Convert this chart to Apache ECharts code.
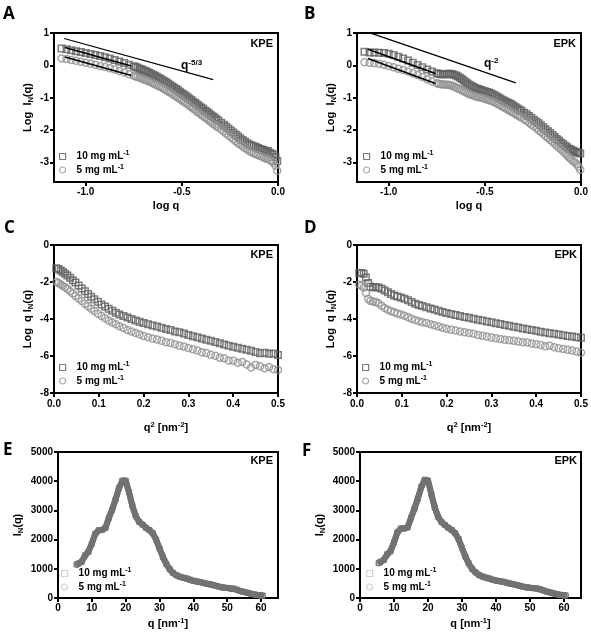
<!DOCTYPE html>
<html><head><meta charset="utf-8">
<script src="https://cdn.jsdelivr.net/npm/echarts@6/dist/echarts.min.js"></script>
<style>html,body{margin:0;padding:0;background:#fff}#c{width:591px;height:635px}</style>
</head><body><div id="c"></div>
<script>
// ---------- DATA ----------
const seriesNames = ['10 mg mL-1', '5 mg mL-1'];
const panelTags = ['KPE', 'EPK', 'KPE', 'EPK', 'KPE', 'EPK'];
const panelLetters = ['A', 'B', 'C', 'D', 'E', 'F'];

// Panels A,B : log q vs Log I_N(q)
const logQ = [-1.126,-1.1,-1.075,-1.05,-1.025,-1.0,-0.975,-0.95,-0.925,-0.9,-0.875,-0.85,-0.825,-0.8,-0.775,-0.75,
  -0.74,-0.73,-0.72,-0.71,-0.70,-0.69,-0.68,-0.67,-0.66,-0.65,-0.64,-0.63,-0.62,-0.61,-0.60,-0.59,-0.58,-0.57,-0.56,-0.55,-0.54,-0.53,
  -0.52,-0.51,-0.50,-0.49,-0.48,-0.47,-0.46,-0.45,-0.44,-0.43,-0.42,-0.41,-0.40,-0.39,-0.38,-0.37,-0.36,-0.35,-0.34,-0.33,-0.32,-0.31,
  -0.295,-0.282,-0.27,-0.258,-0.245,-0.232,-0.22,-0.208,-0.196,-0.184,-0.172,-0.16,-0.148,-0.137,-0.126,-0.115,-0.104,-0.093,-0.082,-0.072,-0.062,-0.052,-0.042,-0.032,-0.022,-0.013,-0.004];
const aKPE10 = [0.52,0.50,0.47,0.44,0.41,0.38,0.35,0.32,0.29,0.25,0.21,0.17,0.12,0.07,0.02,-0.03,
  -0.05,-0.07,-0.10,-0.12,-0.15,-0.17,-0.20,-0.23,-0.26,-0.29,-0.32,-0.35,-0.39,-0.42,-0.46,-0.49,-0.53,-0.57,-0.61,-0.65,-0.69,-0.73,
  -0.77,-0.81,-0.86,-0.90,-0.94,-0.98,-1.03,-1.07,-1.12,-1.16,-1.21,-1.25,-1.30,-1.34,-1.39,-1.43,-1.48,-1.52,-1.57,-1.61,-1.66,-1.70,
  -1.77,-1.83,-1.89,-1.95,-2.01,-2.07,-2.13,-2.19,-2.25,-2.30,-2.35,-2.40,-2.44,-2.47,-2.50,-2.52,-2.55,-2.58,-2.60,-2.62,-2.66,-2.64,-2.70,-2.73,-2.76,-2.83,-2.95];
const aKPE5 = [0.21,0.20,0.17,0.14,0.11,0.08,0.05,0.02,-0.02,-0.05,-0.09,-0.13,-0.17,-0.22,-0.27,-0.32,
  -0.34,-0.36,-0.38,-0.40,-0.43,-0.45,-0.47,-0.50,-0.52,-0.55,-0.58,-0.61,-0.64,-0.67,-0.70,-0.74,-0.77,-0.81,-0.84,-0.88,-0.92,-0.96,
  -1.00,-1.04,-1.08,-1.12,-1.16,-1.20,-1.25,-1.29,-1.34,-1.38,-1.43,-1.47,-1.52,-1.56,-1.61,-1.65,-1.70,-1.74,-1.79,-1.83,-1.88,-1.92,
  -1.98,-2.04,-2.10,-2.16,-2.22,-2.28,-2.34,-2.40,-2.45,-2.50,-2.55,-2.60,-2.64,-2.68,-2.71,-2.74,-2.77,-2.80,-2.82,-2.85,-2.88,-2.87,-2.93,-2.96,-3.01,-3.10,-3.25];
const bEPK10 = [0.42,0.40,0.40,0.39,0.38,0.36,0.32,0.27,0.21,0.15,0.08,0.01,-0.06,-0.13,-0.19,-0.24,
  -0.26,-0.27,-0.27,-0.27,-0.27,-0.26,-0.26,-0.27,-0.29,-0.31,-0.34,-0.38,-0.42,-0.47,-0.51,-0.56,-0.60,-0.64,-0.67,-0.70,-0.72,-0.74,
  -0.76,-0.78,-0.80,-0.82,-0.84,-0.86,-0.89,-0.92,-0.95,-0.99,-1.02,-1.06,-1.09,-1.12,-1.15,-1.18,-1.21,-1.25,-1.29,-1.33,-1.37,-1.40,
  -1.46,-1.51,-1.56,-1.62,-1.68,-1.73,-1.79,-1.85,-1.91,-1.97,-2.03,-2.09,-2.15,-2.21,-2.27,-2.32,-2.38,-2.43,-2.48,-2.53,-2.57,-2.60,-2.63,-2.66,-2.68,-2.70,-2.72];
const bEPK5 = [0.10,0.08,0.07,0.05,0.02,-0.02,-0.06,-0.10,-0.14,-0.19,-0.24,-0.30,-0.36,-0.43,-0.50,-0.55,
  -0.57,-0.58,-0.59,-0.59,-0.60,-0.60,-0.61,-0.63,-0.65,-0.68,-0.71,-0.74,-0.77,-0.80,-0.83,-0.86,-0.89,-0.91,-0.93,-0.95,-0.97,-0.98,
  -1.00,-1.01,-1.03,-1.05,-1.07,-1.09,-1.11,-1.14,-1.17,-1.20,-1.23,-1.27,-1.30,-1.33,-1.37,-1.40,-1.44,-1.47,-1.51,-1.54,-1.58,-1.61,
  -1.67,-1.72,-1.77,-1.83,-1.88,-1.94,-2.00,-2.06,-2.12,-2.18,-2.24,-2.30,-2.36,-2.42,-2.48,-2.54,-2.60,-2.66,-2.72,-2.78,-2.84,-2.90,-2.95,-3.00,-3.05,-3.12,-3.22];
// fit lines and reference slopes [logq, value]
const aFit10 = [[-1.108, 0.55], [-0.763, -0.02]];
const aFit5 = [[-1.108, 0.26], [-0.763, -0.31]];
const aRef = [[-1.112, 0.83], [-0.337, -0.44]];
const bFit10 = [[-1.108, 0.50], [-0.757, -0.25]];
const bFit5 = [[-1.108, 0.21], [-0.757, -0.56]];
const bRef = [[-1.09, 0.99], [-0.339, -0.54]];

// Panels C,D : q^2 vs Log q I_N(q)
const q2 = [0.005,0.01,0.015,0.02,0.025,0.03,0.036,0.042,0.048,0.055,0.062,0.069,0.076,0.083,0.09,0.098,0.106,0.114,0.122,0.13,0.138,0.146,
  0.155,0.164,0.173,0.182,0.191,0.2,0.21,0.22,0.23,0.24,0.25,0.26,0.27,0.28,0.29,0.3,0.31,0.32,0.33,0.34,0.35,0.36,0.37,0.38,0.39,0.4,
  0.41,0.42,0.43,0.44,0.45,0.46,0.47,0.48,0.49,0.5];
const cKPE10 = [-1.25,-1.30,-1.38,-1.46,-1.55,-1.65,-1.77,-1.90,-2.03,-2.19,-2.35,-2.50,-2.65,-2.80,-2.93,-3.07,-3.21,-3.33,-3.45,-3.56,-3.66,-3.75,
  -3.84,-3.92,-4.00,-4.08,-4.15,-4.22,-4.28,-4.35,-4.41,-4.47,-4.54,-4.60,-4.67,-4.72,-4.79,-4.86,-4.93,-4.99,-5.06,-5.12,-5.18,-5.24,-5.31,-5.38,-5.45,-5.50,
  -5.55,-5.61,-5.66,-5.72,-5.78,-5.85,-5.82,-5.88,-5.86,-5.94];
const cKPE5 = [-2.00,-2.06,-2.13,-2.21,-2.29,-2.38,-2.50,-2.62,-2.75,-2.89,-3.03,-3.17,-3.31,-3.44,-3.57,-3.71,-3.84,-3.96,-4.08,-4.19,-4.29,-4.39,
  -4.49,-4.59,-4.68,-4.76,-4.84,-4.92,-4.99,-5.05,-5.11,-5.18,-5.25,-5.30,-5.36,-5.44,-5.49,-5.57,-5.63,-5.70,-5.80,-5.84,-5.93,-5.99,-6.10,-6.12,-6.24,-6.26,
  -6.36,-6.33,-6.46,-6.62,-6.48,-6.55,-6.66,-6.60,-6.72,-6.75];
const dEPK10 = [-1.52,-1.52,-1.55,-1.75,-2.05,-2.25,-2.28,-2.28,-2.30,-2.36,-2.46,-2.56,-2.65,-2.73,-2.79,-2.84,-2.90,-2.98,-3.08,-3.17,-3.24,-3.30,
  -3.36,-3.43,-3.49,-3.55,-3.62,-3.68,-3.73,-3.78,-3.84,-3.89,-3.93,-3.98,-4.04,-4.08,-4.13,-4.18,-4.23,-4.27,-4.32,-4.37,-4.42,-4.46,-4.51,-4.56,-4.60,-4.64,
  -4.69,-4.73,-4.77,-4.80,-4.84,-4.88,-4.92,-4.95,-4.98,-5.02];
const dEPK5 = [-2.15,-2.20,-2.30,-2.60,-2.90,-3.02,-3.05,-3.08,-3.15,-3.28,-3.40,-3.50,-3.58,-3.64,-3.70,-3.76,-3.83,-3.91,-3.99,-4.06,-4.12,-4.17,
  -4.22,-4.28,-4.34,-4.41,-4.47,-4.53,-4.58,-4.62,-4.67,-4.71,-4.76,-4.80,-4.86,-4.90,-4.95,-5.00,-5.04,-5.08,-5.12,-5.15,-5.18,-5.21,-5.25,-5.27,-5.32,-5.37,
  -5.41,-5.47,-5.44,-5.53,-5.58,-5.62,-5.66,-5.70,-5.76,-5.82];

// Panels E,F : q [nm^-1] vs I_N(q)
const qNm = [5.5,6,7,8,9,10,11,12,13,14,15,16,17,18,19,20,21,22,23,24,25,26,27,28,29,30,31,32,33,34,35,36,37,38,39,40,
  41,42,43,44,45,46,47,48,49,50,51,52,53,54,55,56,57,58,59,60,60.5];
const eKPE10 = [1150,1180,1240,1460,1580,1860,2200,2320,2330,2400,2740,3020,3370,3760,4020,4020,3620,3150,2800,2610,2510,2400,2330,2220,2000,1700,
  1400,1170,990,860,780,730,700,670,630,590,570,550,520,490,470,440,410,380,360,345,330,320,280,240,210,180,150,125,105,90,85];
const eKPE5 = [1130,1170,1250,1440,1600,1880,2190,2310,2340,2390,2730,3030,3380,3750,4000,4010,3600,3140,2790,2600,2520,2410,2320,2210,1990,1690,
  1410,1160,980,850,770,720,690,660,620,580,560,540,510,480,460,430,400,370,350,340,320,310,270,230,200,170,140,115,95,80,75];
const fEPK10 = [1200,1240,1300,1500,1600,1900,2250,2380,2380,2420,2750,3050,3400,3800,4050,4020,3550,3100,2780,2600,2500,2400,2330,2220,2020,1720,
  1420,1180,1000,880,790,740,700,670,630,600,580,560,530,500,480,450,420,390,370,350,340,330,300,260,220,190,160,130,110,95,90];
const fEPK5 = [1180,1230,1310,1490,1620,1910,2240,2370,2390,2410,2740,3060,3410,3790,4030,4030,3560,3090,2770,2590,2490,2410,2320,2210,2010,1710,
  1410,1170,990,870,780,730,690,660,620,590,570,550,520,490,470,440,410,380,360,340,330,320,290,250,210,180,150,120,100,85,80];

// tick labels
const ticksLogQ = [-1.0, -0.5, 0.0];
const ticksLogI = [-3, -2, -1, 0, 1];
const ticksQnm = [0, 10, 20, 30, 40, 50, 60];

// ---------- STYLE / LAYOUT ----------
const FONT = '"Liberation Sans", Arial, sans-serif';
const C10 = '#5e5e5e', C5 = '#909090', CBAND = '#727272', CLEG = '#c4c4c4';

const grids = [
  {left: 54, top: 33, width: 224, height: 149},
  {left: 357, top: 33, width: 224, height: 149},
  {left: 54, top: 245, width: 224, height: 148},
  {left: 357, top: 245, width: 224, height: 148},
  {left: 58, top: 452, width: 220, height: 146},
  {left: 360, top: 452, width: 221, height: 146}
].map(g => Object.assign({show: true, borderColor: '#000', borderWidth: 2, backgroundColor: 'transparent'}, g));

const richName = {
  t: {fontSize: 11, fontWeight: 'bold', fontFamily: FONT, color: '#000', lineHeight: 14},
  s: {fontSize: 7.5, fontWeight: 'bold', fontFamily: FONT, color: '#000', verticalAlign: 'top', lineHeight: 8},
  b: {fontSize: 7.5, fontWeight: 'bold', fontFamily: FONT, color: '#000', verticalAlign: 'bottom', lineHeight: 8}
};

function axisBase(extra) {
  return Object.assign({
    type: 'value', scale: false,
    axisLine: {show: true, onZero: false, lineStyle: {color: '#000', width: 2}},
    axisTick: {show: true, length: 4, lineStyle: {color: '#000', width: 2}},
    axisLabel: {color: '#000', fontWeight: 'bold', fontSize: 10, fontFamily: FONT, margin: 5},
    splitLine: {show: false},
    nameLocation: 'middle',
    nameTextStyle: {rich: richName}
  }, extra);
}
function withCustom(ax, vals, fmt) {
  ax.axisTick = Object.assign({}, ax.axisTick, {customValues: vals});
  ax.axisLabel = Object.assign({}, ax.axisLabel, {customValues: vals, formatter: fmt});
  return ax;
}

const xAxes = [], yAxes = [];
for (let i = 0; i < 2; i++) {
  xAxes.push(withCustom(axisBase({gridIndex: i, min: -1.165, max: 0, name: '{t|log q}', nameGap: 17}), ticksLogQ, v => v.toFixed(1)));
  yAxes.push(withCustom(axisBase({gridIndex: i, min: -3.6, max: 1, name: '{t|Log  I}{b|N}{t|(q)}', nameGap: 19, nameRotate: 90}), ticksLogI, v => String(v)));
}
for (let i = 2; i < 4; i++) {
  xAxes.push(axisBase({gridIndex: i, min: 0, max: 0.5, interval: 0.1, name: '{t|q}{s|2}{t| [nm}{s|-2}{t|]}', nameGap: 28,
    axisLabel: {color: '#000', fontWeight: 'bold', fontSize: 10, fontFamily: FONT, margin: 6, formatter: v => v.toFixed(1)}}));
  yAxes.push(axisBase({gridIndex: i, min: -8, max: 0, interval: 2, name: '{t|Log  q I}{b|N}{t|(q)}', nameGap: 19, nameRotate: 90,
    axisLabel: {color: '#000', fontWeight: 'bold', fontSize: 10, fontFamily: FONT, margin: 5, formatter: v => String(v)}}));
}
for (let i = 4; i < 6; i++) {
  xAxes.push(withCustom(axisBase({gridIndex: i, min: 0, max: 65, name: '{t|q [nm}{s|-1}{t|]}', nameGap: 19}), ticksQnm, v => String(v)));
  yAxes.push(axisBase({gridIndex: i, min: 0, max: 5000, interval: 1000, name: '{t|I}{b|N}{t|(q)}', nameGap: 33, nameRotate: 90,
    axisLabel: {color: '#000', fontWeight: 'bold', fontSize: 10, fontFamily: FONT, margin: 5, formatter: v => String(v)}}));
}

const zip = (xs, ys) => xs.map((x, i) => [x, ys[i]]);
function scat(name, xs, ys, gi, symbol, color, size) {
  return {type: 'scatter', name, xAxisIndex: gi, yAxisIndex: gi, symbol, symbolSize: size,
    itemStyle: {color: 'rgba(255,255,255,0)', borderColor: color, borderWidth: 1.5},
    data: zip(xs, ys), animation: false, z: 2};
}
function band(name, xs, ys, gi, symbol) {
  return {type: 'line', name, xAxisIndex: gi, yAxisIndex: gi, symbol, symbolSize: 5, showSymbol: true,
    lineStyle: {color: CBAND, width: 6}, itemStyle: {color: 'rgba(255,255,255,0)', borderColor: CBAND, borderWidth: 1},
    data: zip(xs, ys), animation: false, z: 2};
}
function seg(pts, gi, width) {
  return {type: 'line', xAxisIndex: gi, yAxisIndex: gi, data: pts, showSymbol: false, symbol: 'none',
    lineStyle: {color: '#000', width}, animation: false, z: 5, silent: true};
}

const series = [
  scat(seriesNames[0], logQ, aKPE10, 0, 'rect', C10, 6.5),
  scat(seriesNames[1], logQ, aKPE5, 0, 'circle', C5, 7),
  seg(aFit10, 0, 1.6), seg(aFit5, 0, 1.6), seg(aRef, 0, 1.2),
  scat(seriesNames[0], logQ, bEPK10, 1, 'rect', C10, 6.5),
  scat(seriesNames[1], logQ, bEPK5, 1, 'circle', C5, 7),
  seg(bFit10, 1, 1.6), seg(bFit5, 1, 1.6), seg(bRef, 1, 1.2),
  scat(seriesNames[0], q2, cKPE10, 2, 'rect', C10, 6.5),
  scat(seriesNames[1], q2, cKPE5, 2, 'circle', C5, 7),
  scat(seriesNames[0], q2, dEPK10, 3, 'rect', C10, 6.5),
  scat(seriesNames[1], q2, dEPK5, 3, 'circle', C5, 7),
  band(seriesNames[0], qNm, eKPE10, 4, 'rect'),
  band(seriesNames[1], qNm, eKPE5, 4, 'circle'),
  band(seriesNames[0], qNm, fEPK10, 5, 'rect'),
  band(seriesNames[1], qNm, fEPK5, 5, 'circle')
];

const legendPos = [[59, 150], [363, 150], [59, 361], [362, 361], [61, 567], [366, 567]];
const legendRich = {
  t: {fontSize: 10, fontWeight: 'bold', fontFamily: FONT, color: '#000', lineHeight: 13, padding: [0, 0, 0, 6]},
  s: {fontSize: 7, fontWeight: 'bold', fontFamily: FONT, color: '#000', verticalAlign: 'top', lineHeight: 8}
};
const legends = legendPos.map((p, i) => {
  const light = i >= 4;
  return {
    left: p[0], top: p[1], orient: 'vertical', itemWidth: 6, itemHeight: 6, itemGap: 2,
    selectedMode: false, padding: 0,
    data: seriesNames.map((n, k) => ({
      name: n, icon: k === 0 ? 'rect' : 'circle',
      itemStyle: {color: 'rgba(255,255,255,0)', borderColor: light ? CLEG : (k === 0 ? C10 : C5), borderWidth: 1.2}
    })),
    formatter: n => '{t|' + n.replace(/-1$/, '') + '}{s|-1}',
    textStyle: {rich: legendRich, fontSize: 10, fontWeight: 'bold'}
  };
});

const letterPos = [[3, 14], [304, 14], [4, 228], [304, 228], [3, 450], [302, 451]];
const tagPos = [[273, 44], [576, 44], [273, 255], [577, 255], [273, 461], [577, 461]];
const graphic = [];
letterPos.forEach((p, i) => graphic.push({type: 'text', x: p[0], y: p[1],
  style: {text: panelLetters[i], font: 'bold 17px "Open Sans", sans-serif', fill: '#000', align: 'left', verticalAlign: 'middle'}}));
tagPos.forEach((p, i) => graphic.push({type: 'text', x: p[0], y: p[1],
  style: {text: panelTags[i], font: 'bold 11px ' + FONT, fill: '#000', align: 'right', verticalAlign: 'middle'}}));
const annRich = {
  q: {fontSize: 12, fontWeight: 'bold', fontFamily: FONT, fill: '#000', lineHeight: 14},
  s: {fontSize: 8, fontWeight: 'bold', fontFamily: FONT, fill: '#000', verticalAlign: 'top', lineHeight: 8}
};
graphic.push({type: 'text', x: 181, y: 59, style: {text: '{q|q}{s|-5/3}', rich: annRich}});
graphic.push({type: 'text', x: 484, y: 57, style: {text: '{q|q}{s|-2}', rich: annRich}});

const chart = echarts.init(document.getElementById('c'), null, {renderer: 'canvas'});
chart.setOption({
  animation: false,
  backgroundColor: '#fff',
  grid: grids, xAxis: xAxes, yAxis: yAxes, series, legend: legends, graphic
});
</script></body></html>
